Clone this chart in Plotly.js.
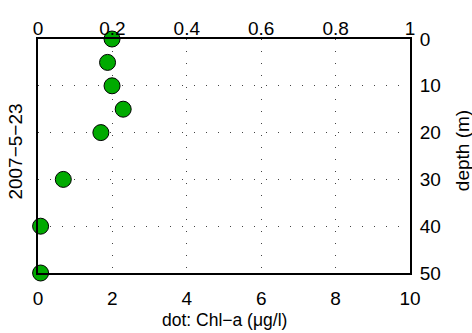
<!DOCTYPE html>
<html><head><meta charset="utf-8">
<script src="https://cdn.plot.ly/plotly-3.0.1.min.js"></script>
<style>body{margin:0;background:#fff}#chart{width:472px;height:333px}</style>
</head><body><div id="chart"></div>
<script>
const depths = [0, 5, 10, 15, 20, 30, 40, 50];
const chla = [1.99, 1.87, 1.99, 2.29, 1.69, 0.68, 0.07, 0.07];
const bottomTicks = [0, 2, 4, 6, 8, 10];
const topTicks = [0, 0.2, 0.4, 0.6, 0.8, 1];
const depthTicks = [0, 10, 20, 30, 40, 50];
const dateLabel = '2007\u22125\u221223';
const xTitle = 'dot: Chl\u2212a (\u03bcg/l)';
const yTitle = 'depth (m)';

const fam = 'Liberation Sans, Arial, sans-serif';
const gridDash = '1px,11px';

const traces = [{
  x: chla, y: depths, type: 'scatter', mode: 'markers', xaxis: 'x', yaxis: 'y',
  cliponaxis: false,
  marker: {size: 16, color: '#00aa00', line: {color: '#000', width: 1}}
}, {
  x: [0], y: [0], xaxis: 'x2', yaxis: 'y', type: 'scatter', mode: 'markers',
  marker: {opacity: 0}, hoverinfo: 'skip'
}];

const layout = {
  width: 472, height: 333,
  margin: {l: 38, r: 62, t: 39, b: 60},
  paper_bgcolor: '#fff', plot_bgcolor: '#fff',
  showlegend: false,
  font: {family: fam, color: '#000'},
  xaxis: {
    range: [0, 10], tickvals: bottomTicks, ticktext: bottomTicks.map(String),
    showline: true, linecolor: '#000', linewidth: 2, ticks: '', ticklabelstandoff: 7,
    showgrid: true, gridcolor: '#444', griddash: gridDash, gridwidth: 1,
    zeroline: false, tickfont: {size: 19, family: fam, color: '#000'}
  },
  xaxis2: {
    range: [0, 1], overlaying: 'x', side: 'top', tickvals: topTicks,
    ticktext: topTicks.map(v => String(v)),
    showline: true, linecolor: '#000', linewidth: 2, ticks: '', ticklabelstandoff: -6,
    showgrid: false, zeroline: false, tickfont: {size: 19, family: fam, color: '#000'}
  },
  yaxis: {
    range: [50, 0], side: 'right', tickvals: depthTicks, ticktext: depthTicks.map(String),
    showline: true, mirror: true, linecolor: '#000', linewidth: 2, ticks: '', ticklabelstandoff: 4,
    showgrid: true, gridcolor: '#444', griddash: gridDash, gridwidth: 1,
    zeroline: false, tickfont: {size: 19, family: fam, color: '#000'}
  },
  annotations: [{
    text: dateLabel, xref: 'paper', yref: 'paper', x: -0.0605, y: 0.521,
    xanchor: 'center', yanchor: 'middle', textangle: -90, showarrow: false,
    font: {size: 19, family: fam, color: '#000'}
  }, {
    text: yTitle, xref: 'paper', yref: 'paper', x: 1.14, y: 0.521,
    xanchor: 'center', yanchor: 'middle', textangle: -90, showarrow: false,
    font: {size: 19, family: fam, color: '#000'}
  }, {
    text: xTitle, xref: 'paper', yref: 'paper', x: 0.5, y: -0.202,
    xanchor: 'center', yanchor: 'middle', showarrow: false,
    font: {size: 17.5, family: fam, color: '#000'}
  }]
};

Plotly.newPlot('chart', traces, layout, {displayModeBar: false, staticPlot: true});
</script></body></html>
